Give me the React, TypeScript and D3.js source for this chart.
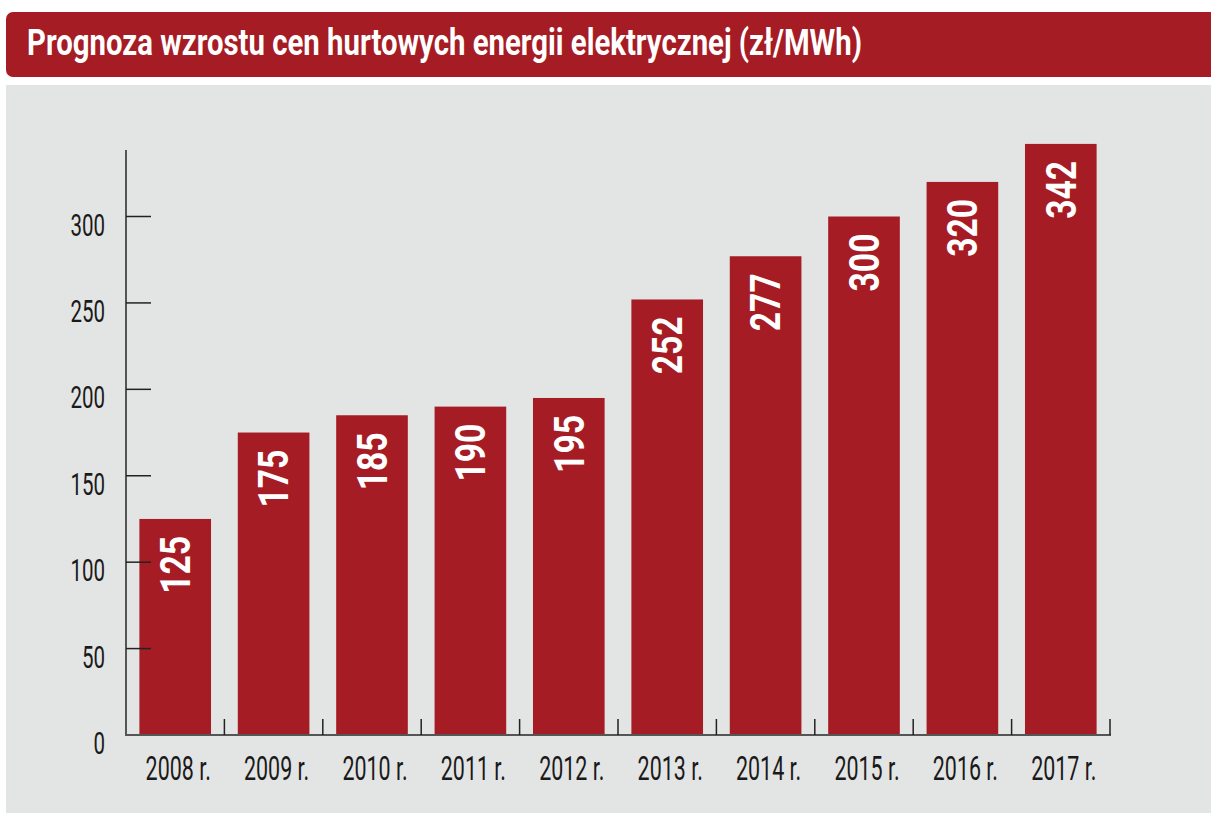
import React from 'react';
import * as d3 from 'd3';

const titleText = 'Prognoza wzrostu cen hurtowych energii elektrycznej (zł/MWh)';
const years = ['2008 r.', '2009 r.', '2010 r.', '2011 r.', '2012 r.', '2013 r.', '2014 r.', '2015 r.', '2016 r.', '2017 r.'];
const prices = [125, 175, 185, 190, 195, 252, 277, 300, 320, 342];
const yTicks = [0, 50, 100, 150, 200, 250, 300];

const RED = '#a51c24';
const GREY = '#e3e4e4';
const FONT = "Roboto, 'Liberation Sans', sans-serif";

export default function App() {
  const W = 1211;
  const H = 818;
  const left = 126;
  const right = 1110;
  const base = 735;

  const x = d3.scaleBand<string>().domain(years).range([left, right]).paddingInner(0.272).paddingOuter(0.136);
  const bounds = d3.scaleLinear().domain([0, years.length]).range([left, right]);
  const y = d3.scaleLinear().domain([0, 300]).range([base, 216.5]);

  return (
    <svg width={W} height={H} style={{ position: 'absolute', left: 0, top: 0, background: '#fff' }} fontFamily={FONT}>
      <rect x={0} y={0} width={W} height={H} fill="#ffffff" />
      {/* title bar */}
      <rect x={6} y={12} width={W + 10} height={65} rx={7} ry={7} fill={RED} />
      <text x={27} y={55} fill="#ffffff" fontSize={36} fontWeight={700} textLength={835} lengthAdjust="spacingAndGlyphs">
        {titleText}
      </text>
      {/* panel */}
      <rect x={6} y={85} width={W - 6} height={728} fill={GREY} />

      {/* bars */}
      {years.map((yr, i) => (
        <rect key={yr} x={x(yr)} y={y(prices[i])} width={x.bandwidth()} height={base - y(prices[i])} fill={RED} />
      ))}

      {/* value labels */}
      {years.map((yr, i) => {
        const cx = (x(yr) as number) + x.bandwidth() / 2;
        const cy = y(prices[i]) + 46;
        return (
          <text
            key={'v' + yr}
            transform={`translate(${cx},${cy}) rotate(-90) scale(0.8,1)`}
            textAnchor="middle"
            dy="0.35em"
            fill="#ffffff"
            fontSize={42}
            fontWeight={700}
          >
            {prices[i]}
          </text>
        );
      })}

      {/* y axis */}
      <line x1={left} x2={left} y1={150} y2={base + 1} stroke="#555" strokeWidth={2} />
      {yTicks.map((t) => (
        <g key={'yt' + t}>
          <line x1={left} x2={151} y1={y(t)} y2={y(t)} stroke="#222" strokeWidth={1.5} />
          <text
            transform={`translate(105,${y(t) + 19}) scale(0.64,1)`}
            textAnchor="end"
            fill="#1a1a1a"
            fontSize={32}
          >
            {t}
          </text>
        </g>
      ))}

      {/* x axis */}
      <line x1={left - 1} x2={right + 1} y1={base} y2={base} stroke="#555" strokeWidth={2} />
      {d3.range(1, years.length + 1).map((k) => (
        <line key={'xt' + k} x1={bounds(k)} x2={bounds(k)} y1={base} y2={base - 16} stroke="#222" strokeWidth={1.5} />
      ))}
      {years.map((yr) => (
        <text
          key={'xl' + yr}
          transform={`translate(${(x(yr) as number) + x.bandwidth() / 2 + 3},780) scale(0.65,1)`}
          textAnchor="middle"
          fill="#1a1a1a"
          fontSize={33}
        >
          {yr}
        </text>
      ))}
    </svg>
  );
}
